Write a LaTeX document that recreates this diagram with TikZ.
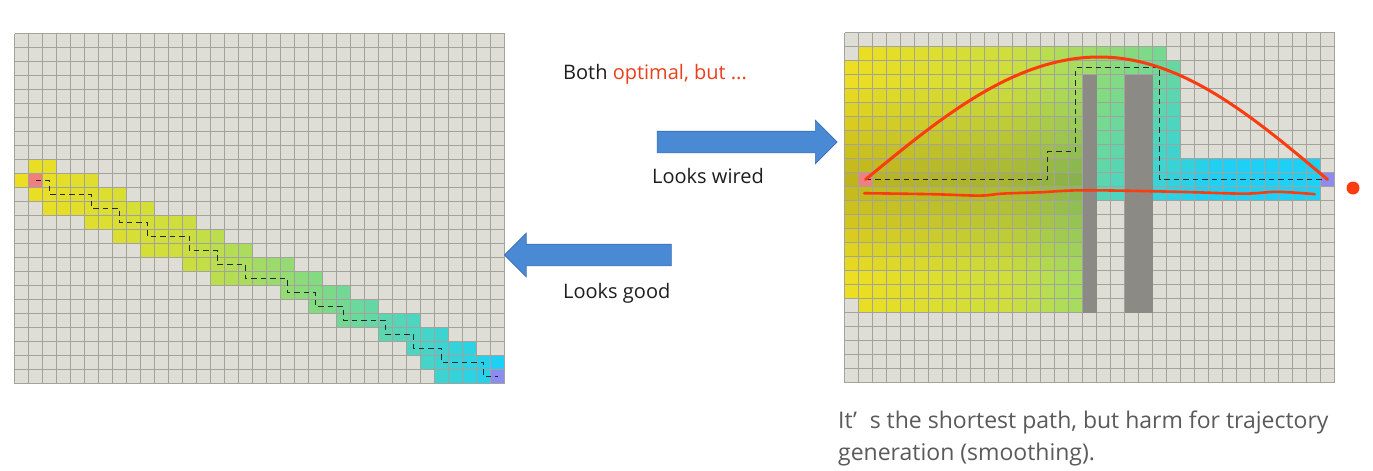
\documentclass[tikz,border=0pt]{standalone}
\usepackage{fontspec}
\setmainfont{Open Sans}
\usetikzlibrary{shapes.arrows}

\definecolor{cellgray}{RGB}{222,222,214}
\definecolor{linegray}{RGB}{163,163,157}
\definecolor{wallgray}{RGB}{140,138,132}
\definecolor{ylw}{RGB}{236,222,34}
\definecolor{ylgr}{RGB}{205,222,62}
\definecolor{grn}{RGB}{130,218,130}
\definecolor{cyn}{RGB}{30,208,245}
\definecolor{startred}{RGB}{240,128,128}
\definecolor{goalblue}{RGB}{140,140,240}
\definecolor{curvered}{RGB}{250,60,15}
\definecolor{arrowblue}{RGB}{74,138,212}
\definecolor{arrowedge}{RGB}{60,110,180}
\definecolor{textred}{RGB}{232,64,28}
\definecolor{textblack}{RGB}{30,30,30}
\definecolor{textgray}{RGB}{90,90,90}

\newcommand\setcellcol[2]{%
  \ifdim#1pt<0.35pt\relax
    \pgfmathsetmacro\mixp{max(0,min(100,100*(1-#1/0.35)))}%
    \colorlet{cellc}{ylw!\mixp!ylgr}%
  \else\ifdim#1pt<0.62pt\relax
    \pgfmathsetmacro\mixp{max(0,min(100,100*(1-(#1-0.35)/0.27)))}%
    \colorlet{cellc}{ylgr!\mixp!grn}%
  \else
    \pgfmathsetmacro\mixp{max(0,min(100,100*(1-(#1-0.62)/0.38)))}%
    \colorlet{cellc}{grn!\mixp!cyn}%
  \fi\fi
  \pgfmathsetmacro\keepp{100-#2}%
  \colorlet{cellc}{cellc!\keepp!black}}

\tikzset{
  gridline/.style={draw=linegray, line width=1.5pt},
  pathdash/.style={draw=black!85, line width=1.4pt, dash pattern=on 5.5pt off 4pt},
  redline/.style={draw=curvered, line width=3pt, line cap=round},
  blockarrow/.style={single arrow, fill=arrowblue, draw=arrowedge, line width=0.6pt,
    inner xsep=0pt, inner ysep=10.5pt, single arrow head extend=11pt},
  slidetext/.style={anchor=base west, inner sep=0pt, text=textblack,
    font=\fontsize{20}{24}\selectfont},
  notetext/.style={anchor=base west, inner sep=0pt, text=textgray,
    font=\fontsize{23}{28}\selectfont}
}

\begin{document}
\begin{tikzpicture}[x=1pt, y=-1pt]
  \fill[white] (0,0) rectangle (1373,471);
  \useasboundingbox (0,0) rectangle (1373,471);

  \begin{scope}[shift={(14.5pt,-33.5pt)}, x=14pt, y=-14pt]
    \fill[cellgray] (0,0) rectangle (35,25);
    \foreach \r/\a/\b in {9/1/2, 10/0/5, 11/1/7, 12/2/9, 13/5/12, 14/7/14, 15/9/16,
        16/12/19, 17/14/21, 18/19/23, 19/21/25, 20/23/28, 21/26/30, 22/28/32,
        23/29/34, 24/30/34}
      \foreach \c in {\a,...,\b} {
        \pgfmathsetmacro\tval{\c/34}
        \setcellcol{\tval}{0}
        \fill[cellc] (\c,\r) rectangle ++(1,1);
      }
    \fill[startred] (1,10) rectangle ++(1,1);
    \fill[goalblue] (34,24) rectangle ++(1,1);
    \foreach \c in {0,...,35} \draw[gridline] (\c,0) -- (\c,25);
    \foreach \r in {0,...,25} \draw[gridline] (0,\r) -- (35,\r);
    \coordinate (lstart) at (1.5,10.5);
    \coordinate (lgoal) at (34.5,24.5);
    \draw[pathdash] (lstart) \foreach \x/\y in {2.5/11.5, 5.5/12.5, 7.5/13.5, 9.5/14.5,
        12.5/15.5, 14.5/16.5, 16.5/17.5, 19.5/18.5, 21.5/19.5, 23.5/20.5, 26.5/21.5,
        28.5/22.5, 30.5/23.5, 33.5/24.5} { -| (\x,\y) } -- (lgoal);
  \end{scope}

  \begin{scope}[shift={(844.5pt,-32.5pt)}, x=14pt, y=-14pt]
    \fill[cellgray] (0,0) rectangle (35,25);
    \foreach \ca/\cb/\ra/\rb in {0/0/2/18, 1/16/1/19, 17/17/1/2, 18/19/1/11,
        20/21/1/2, 22/22/1/11, 23/23/2/11, 24/33/9/11}
      \foreach \c in {\ca,...,\cb}
        \foreach \r in {\ra,...,\rb} {
          \pgfmathsetmacro\tval{min(1, \c/33 + (\c>17 ? 0.025*(\r-1) : 0))}
          \pgfmathsetmacro\dark{\c<18 ? 19*max(0,1-abs(\r-10)/7) : 0}
          \setcellcol{\tval}{\dark}
          \fill[cellc] (\c,\r) rectangle ++(1,1);
        }
    \fill[startred] (1,10) rectangle ++(1,1);
    \fill[goalblue] (34,10) rectangle ++(1,1);
    \foreach \c in {0,...,35} \draw[gridline] (\c,0) -- (\c,25);
    \foreach \r in {0,...,25} \draw[gridline] (0,\r) -- (35,\r);
    \fill[wallgray] (17,3) rectangle (18,20);
    \fill[wallgray] (20,3) rectangle (22,20);
    \coordinate (rstart) at (1.5,10.5);
    \coordinate (rgoal) at (34.5,10.5);
    \draw[pathdash] (rstart) -| (14.5,8.5) -| (16.5,2.5) -| (22.5,10.5) -- (rgoal);
    \draw[redline] (rstart) sin (18.2,1.75) cos (rgoal);
    \draw[redline, line width=2.6pt] plot[smooth, tension=0.6] coordinates {(1.41,11.48)
      (6.27,11.55) (9.65,11.65) (11.27,11.51) (14.01,11.41) (17.18,11.27) (23.87,11.38)
      (28.52,11.51) (30.92,11.38) (33.59,11.55)};
  \end{scope}
  \node[circle, fill=curvered, minimum size=13pt, inner sep=0pt] (reddot) at (1353,188) {};

  \node[slidetext] (both) at (563,79) {Both \textcolor{textred}{optimal, but ...}};
  \node[blockarrow, minimum height=180pt] (wiredarrow) at (741.7,142) {};
  \node[slidetext] (wired) at (652,183) {Looks wired};
  \node[blockarrow, minimum height=167pt, shape border rotate=180] (goodarrow) at (593.3,255) {};
  \node[slidetext] (good) at (563,298) {Looks good};

  \node[notetext] (note1) at (838,428) {It’\hspace{0.55em}s the shortest path, but harm for trajectory};
  \node[notetext] (note2) at (838,460) {generation (smoothing).};
\end{tikzpicture}
\end{document}
